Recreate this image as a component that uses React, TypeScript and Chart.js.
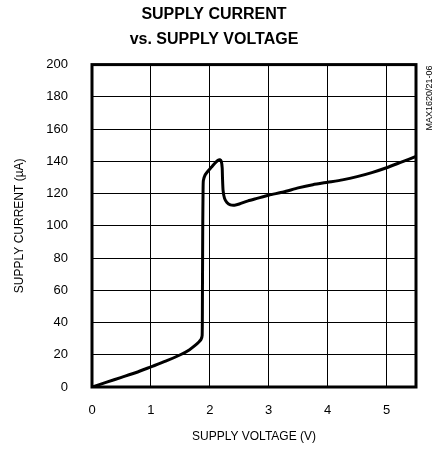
import React, { useEffect, useRef } from "react";
import { Chart, registerables } from "chart.js";

Chart.register(...registerables);

const voltage = [0, 0.25, 0.5, 0.75, 1.0, 1.25, 1.5, 1.65, 1.75, 1.81, 1.85, 1.87, 1.875, 1.88, 1.885, 1.89, 1.92, 1.97, 2.03, 2.09, 2.14, 2.17, 2.195, 2.21, 2.215, 2.225, 2.25, 2.29, 2.35, 2.42, 2.5, 2.65, 2.8, 3.0, 3.25, 3.5, 3.75, 4.0, 4.25, 4.5, 4.75, 5.0, 5.25, 5.5];
const current = [0, 3, 6, 9, 12.5, 16, 20, 23, 25.8, 27.8, 29.5, 32, 60, 100, 120, 128, 131.5, 134, 136.5, 139, 140.7, 141, 140, 136, 130, 122, 117, 114.5, 113, 112.8, 113.5, 115.5, 117, 119, 121, 123.5, 125.5, 127, 128.5, 130.5, 133, 136, 139.5, 143];
const xTickValues = [0, 1, 2, 3, 4, 5];
const titleLines = ["SUPPLY CURRENT", "vs. SUPPLY VOLTAGE"];
const xTitle = "SUPPLY VOLTAGE (V)";
const yTitle = "SUPPLY CURRENT (\u00b5A)";
const sideNote = "MAX1620/21-06";

const FONT = "'Liberation Sans', Arial, Helvetica, sans-serif";

export default function App() {
  const ref = useRef<HTMLCanvasElement | null>(null);
  useEffect(() => {
    if (!ref.current) return;
    const framePlugin = {
      id: "frame",
      afterDraw(chart: any) {
        const { ctx, chartArea } = chart;
        ctx.save();
        ctx.strokeStyle = "#000";
        ctx.lineWidth = 3;
        ctx.strokeRect(chartArea.left, chartArea.top, chartArea.right - chartArea.left, chartArea.bottom - chartArea.top);
        ctx.translate(430, 98);
        ctx.rotate(-Math.PI / 2);
        ctx.fillStyle = "#000";
        ctx.font = `9px ${FONT}`;
        ctx.textAlign = "center";
        ctx.textBaseline = "middle";
        ctx.fillText(sideNote, 0, 0);
        ctx.restore();
      },
    };
    const chart = new Chart(ref.current, {
      type: "line",
      data: {
        datasets: [
          {
            data: voltage.map((v, i) => ({ x: v, y: current[i] })),
            borderColor: "#000",
            borderWidth: 3,
            pointRadius: 0,
            tension: 0.2,
            borderJoinStyle: "round",
            borderCapStyle: "round",
            fill: false,
          },
        ],
      },
      options: {
        animation: false,
        responsive: false,
        devicePixelRatio: 1,
        layout: { padding: { top: 0, right: 24, left: 12, bottom: 7 } },
        plugins: {
          legend: { display: false },
          tooltip: { enabled: false },
          title: {
            display: true,
            text: titleLines,
            color: "#000",
            font: { family: FONT, size: 16, weight: "bold", lineHeight: 1.55 },
            padding: { top: 2, bottom: 13 },
          },
        },
        scales: {
          x: {
            type: "linear",
            min: 0,
            max: 5.5,
            afterBuildTicks: (scale: any) => {
              scale.ticks = xTickValues.map((v) => ({ value: v }));
            },
            afterFit: (scale: any) => {
              scale.height = 57;
            },
            ticks: { stepSize: 1, color: "#000", font: { family: FONT, size: 13 }, padding: 16 },
            grid: { color: "#000", lineWidth: 1, drawTicks: false },
            border: { display: false },
            title: { display: true, text: xTitle, color: "#000", font: { family: FONT, size: 12 }, padding: 0 },
          },
          y: {
            min: 0,
            max: 200,
            afterFit: (scale: any) => {
              scale.width = 80;
            },
            ticks: { stepSize: 20, color: "#000", font: { family: FONT, size: 13 }, padding: 24 },
            grid: { color: "#000", lineWidth: 1, drawTicks: false },
            border: { display: false },
            title: { display: true, text: yTitle, color: "#000", font: { family: FONT, size: 12 }, padding: 0 },
          },
        },
      },
      plugins: [framePlugin],
    } as any);
    return () => chart.destroy();
  }, []);
  return (
    <div style={{ position: "fixed", left: 0, top: 0, width: 440, height: 451, background: "#fff" }}>
      <canvas ref={ref} width={440} height={451} />
    </div>
  );
}
